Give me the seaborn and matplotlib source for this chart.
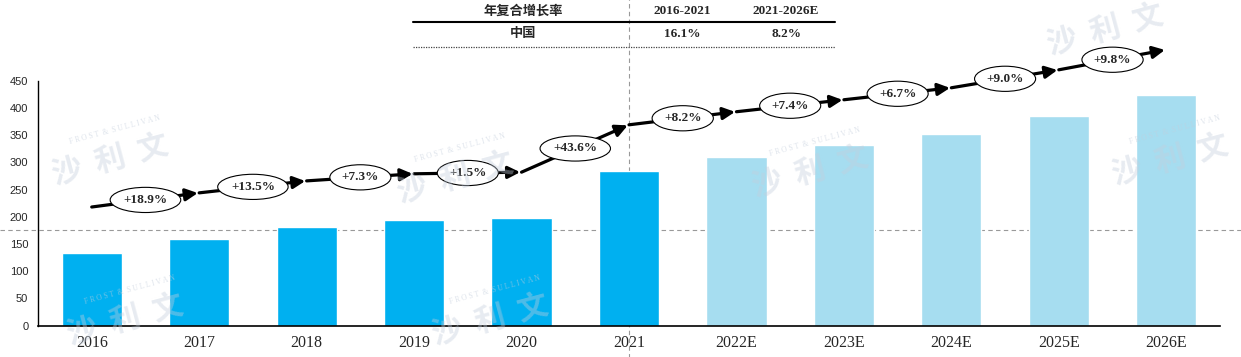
import numpy as np
import pandas as pd
import matplotlib
matplotlib.use("Agg")
import matplotlib.pyplot as plt
from matplotlib.lines import Line2D
import seaborn as sns

# data
years = ["2016", "2017", "2018", "2019", "2020", "2021",
         "2022E", "2023E", "2024E", "2025E", "2026E"]
values = [134, 160, 182, 195, 198, 285, 309, 331, 353, 386, 423]
kind = ["actual"] * 6 + ["forecast"] * 5
growth = ["+18.9%", "+13.5%", "+7.3%", "+1.5%", "+43.6%",
          "+8.2%", "+7.4%", "+6.7%", "+9.0%", "+9.8%"]
cagr_header = ["年复合增长率", "2016-2021", "2021-2026E"]
cagr_row = ["中国", "16.1%", "8.2%"]
ref_level = 175

df = pd.DataFrame({"year": years, "value": values, "kind": kind})

W, H = 1241, 357
sns.set_theme(style="white")
plt.rcParams["font.family"] = ["Liberation Serif", "Noto Sans CJK SC", "DejaVu Sans"]

fig = plt.figure(figsize=(W / 100, H / 100), dpi=100)
ax = fig.add_axes([38 / W, (H - 325.7) / H, (1220 - 38) / W, 245 / H])

sns.barplot(data=df, x="year", y="value", hue="kind",
            palette={"actual": "#00B0F0", "forecast": "#A6DDF0"},
            width=0.56, dodge=False, saturation=1, legend=False, ax=ax, zorder=2)

ax.set_ylim(0, 450)
ax.set_xlim(-0.5, len(years) - 0.5)
ax.set_yticks(range(0, 451, 50))
ax.set_xlabel("")
ax.set_ylabel("")
sns.despine(ax=ax)
ax.spines["left"].set_color("black")
ax.spines["bottom"].set_color("black")
ax.spines["left"].set_linewidth(1.0)
ax.spines["bottom"].set_linewidth(1.2)
ax.tick_params(axis="y", direction="out", length=4, width=0.8, color="black",
               labelsize=8, pad=3)
ax.tick_params(axis="x", length=0, labelsize=11.5, pad=7)
for lbl in ax.get_yticklabels():
    lbl.set_family("Liberation Sans")

# growth arrow line, floating above bars
offset = 84
xs = np.arange(len(values))
ys = np.array(values) + offset
for i in range(len(values) - 1):
    ax.annotate("", xy=(xs[i + 1], ys[i + 1]), xytext=(xs[i], ys[i]),
                arrowprops=dict(arrowstyle="-|>,head_length=0.6,head_width=0.3",
                                lw=2.3, color="black", shrinkA=0, shrinkB=1,
                                mutation_scale=12),
                annotation_clip=False, zorder=4)
    ax.text((xs[i] + xs[i + 1]) / 2, (ys[i] + ys[i + 1]) / 2, growth[i],
            ha="center", va="center", fontsize=9.5, fontweight="bold",
            bbox=dict(boxstyle="ellipse,pad=0.22", fc="white", ec="black", lw=0.8),
            zorder=5, clip_on=False)

# reference lines
ax.axhline(ref_level, xmin=-38 / 1182, xmax=1 + 21 / 1182, color="#999999",
           lw=0.8, ls=(0, (4, 3)), clip_on=False, zorder=1)
ax.axvline(5, ymin=-0.13, ymax=1.34, color="#999999", lw=0.8,
           ls=(0, (4, 3)), clip_on=False, zorder=1)

# CAGR table
col_x = [523, 682, 786]
for x, t in zip(col_x, cagr_header):
    fig.text(x / W, 1 - 11 / H, t, ha="center", va="center", fontsize=9.5,
             fontweight="bold")
for x, t in zip(col_x, cagr_row):
    fig.text(x / W, 1 - 34 / H, t, ha="center", va="center", fontsize=9.5,
             fontweight="bold")
fig.add_artist(Line2D([413 / W, 835 / W], [1 - 21.5 / H] * 2, color="black", lw=1.5))
fig.add_artist(Line2D([413 / W, 835 / W], [1 - 46.5 / H] * 2, color="#444444",
                      lw=0.9, ls=(0, (1, 1))))

# faint watermarks
marks = [(110, 160, True), (455, 178, True), (810, 172, True), (1170, 160, True),
         (125, 320, True), (490, 320, True), (1105, 30, False)]
for mx, my, sub in marks:
    fig.text(mx / W, 1 - my / H, "沙  利  文", ha="center", va="center",
             fontsize=22, fontweight="bold", family="Noto Sans CJK SC",
             color="#c4cedc", alpha=0.4, rotation=15, zorder=10)
    if sub:
        fig.text((mx + 5) / W, 1 - (my - 30) / H, "F R O S T  &  S U L L I V A N",
                 ha="center", va="center", fontsize=5.5, color="#c4cedc",
                 alpha=0.55, rotation=15, zorder=10)

fig.savefig("out.png", dpi=100)
